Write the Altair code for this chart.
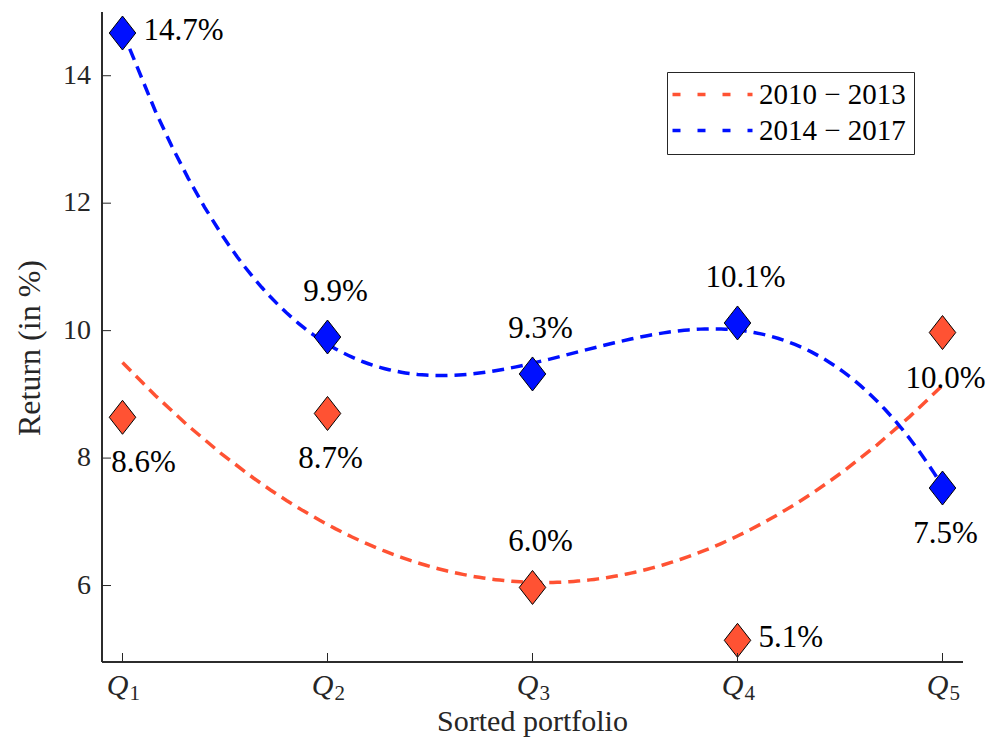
import altair as alt
import pandas as pd

# ---- data ----
portfolios = [1, 2, 3, 4, 5]
tick_main = ["Q", "Q", "Q", "Q", "Q"]
tick_sub = ["1", "2", "3", "4", "5"]
y_ticks = [6, 8, 10, 12, 14]
y_tick_labels = ["6", "8", "10", "12", "14"]
x_title = ["Sorted portfolio"]
y_title = ["Return (in %)"]
series_names = ["2010 − 2013", "2014 − 2017"]
ret_2010_2013 = [8.64, 8.70, 5.97, 5.14, 9.97]
ret_2014_2017 = [14.67, 9.90, 9.32, 10.12, 7.53]
labels_2010_2013 = ["8.6%", "8.7%", "6.0%", "5.1%", "10.0%"]
labels_2014_2017 = ["14.7%", "9.9%", "9.3%", "10.1%", "7.5%"]
place_2010_2013 = ["below_right", "below", "above", "right", "below"]
place_2014_2017 = ["right", "above", "above", "above", "below"]

RED = "#FF5233"
BLUE = "#0010FF"
AX = "#262626"
FONT = "Liberation Serif"
W, H = 861, 650

rows = []
for s, vals, labs, pls in [
    (series_names[0], ret_2010_2013, labels_2010_2013, place_2010_2013),
    (series_names[1], ret_2014_2017, labels_2014_2017, place_2014_2017),
]:
    for x, v, l, p in zip(portfolios, vals, labs, pls):
        rows.append({"x": x, "ret": v, "series": s, "label": l, "place": p})
df = pd.DataFrame(rows)

xscale = alt.Scale(domain=[0.9, 5.1], nice=False, zero=False)
yscale = alt.Scale(domain=[4.8, 15], nice=False, zero=False)
color_scale = alt.Scale(domain=series_names, range=[RED, BLUE])

X = alt.X("x:Q", scale=xscale, axis=None)
Y = alt.Y("ret:Q", scale=yscale, axis=None)

legend = alt.Legend(title=None, orient="none", legendX=565, legendY=60,
                    symbolType="M-4,0H4", symbolSize=400, symbolStrokeWidth=3.5,
                    symbolDash=[8, 17], symbolOffset=23, labelOffset=32,
                    labelFont=FONT, labelFontSize=29, labelColor="black",
                    strokeColor=AX, fillColor="white", padding=8, rowPadding=6)

base = alt.Chart(df)


def fit_line(name, order):
    return (base.transform_filter(alt.datum.series == name)
            .transform_regression("x", "ret", method="poly", order=order,
                                  extent=[1, 5], groupby=["series"])
            .mark_line(strokeDash=[12, 7], strokeWidth=3.5)
            .encode(x=X, y=Y,
                    stroke=alt.Stroke("series:N", scale=color_scale, legend=legend)))


red_line = fit_line(series_names[0], 2)
blue_line = fit_line(series_names[1], 3)

diamond = "M0,-1L0.78,0L0,1L-0.78,0Z"

points = (base.mark_point(shape=diamond, size=1156, filled=True, stroke="black",
                          strokeWidth=1, opacity=1)
          .encode(x=X, y=Y,
                  fill=alt.Fill("series:N", scale=color_scale, legend=None)))


def labels(place, **kw):
    return (base.transform_filter(alt.datum.place == place)
            .mark_text(font=FONT, fontSize=31, color="black", **kw)
            .encode(x=X, y=Y, text="label:N"))


lab_above = labels("above", align="center", baseline="middle", dx=8, dy=-45)
lab_below = labels("below", align="center", baseline="middle", dx=3, dy=46)
lab_below_r = labels("below_right", align="center", baseline="middle", dx=21, dy=46)
lab_right = labels("right", align="left", baseline="middle", dx=21, dy=-2)

# ---- axes (drawn from the tick arrays through the scales) ----
ytick_df = pd.DataFrame({"v": y_ticks, "lab": y_tick_labels})
xtick_df = pd.DataFrame({"x": portfolios, "main": tick_main, "sub": tick_sub})

ydomain = (alt.Chart(ytick_df).mark_rule(color=AX, strokeWidth=1)
           .encode(x=alt.value(0), y=alt.value(0), y2=alt.value(H)))
xdomain = (alt.Chart(ytick_df).mark_rule(color=AX, strokeWidth=1)
           .encode(x=alt.value(0), x2=alt.value(W), y=alt.value(H)))
yticks = (alt.Chart(ytick_df).mark_rule(color=AX, strokeWidth=1)
          .encode(y=alt.Y("v:Q", scale=yscale, axis=None),
                  x=alt.value(0), x2=alt.value(9)))
ylabels = (alt.Chart(ytick_df)
           .mark_text(font=FONT, fontSize=28, color=AX, align="right",
                      baseline="middle")
           .encode(y=alt.Y("v:Q", scale=yscale, axis=None), x=alt.value(-11),
                   text="lab:N"))
xticks = (alt.Chart(xtick_df).mark_rule(color=AX, strokeWidth=1)
          .encode(x=alt.X("x:Q", scale=xscale, axis=None),
                  y=alt.value(H), y2=alt.value(H - 9)))
xlab_main = (alt.Chart(xtick_df)
             .mark_text(font=FONT, fontSize=30, fontStyle="italic", color=AX,
                        align="center", baseline="alphabetic", dx=-5)
             .encode(x=alt.X("x:Q", scale=xscale, axis=None), y=alt.value(H + 33),
                     text="main:N"))
xlab_sub = (alt.Chart(xtick_df)
            .mark_text(font=FONT, fontSize=21, color=AX,
                       align="left", baseline="alphabetic", dx=7)
            .encode(x=alt.X("x:Q", scale=xscale, axis=None), y=alt.value(H + 38),
                    text="sub:N"))
xtitle = (alt.Chart(pd.DataFrame({"t": x_title}))
          .mark_text(font=FONT, fontSize=30, color=AX, align="center",
                     baseline="alphabetic")
          .encode(x=alt.value(W / 2), y=alt.value(H + 69), text="t:N"))
ytitle = (alt.Chart(pd.DataFrame({"t": y_title}))
          .mark_text(font=FONT, fontSize=32, color=AX, align="center",
                     baseline="middle", angle=270)
          .encode(x=alt.value(-72), y=alt.value(336), text="t:N"))

chart = (alt.layer(red_line, blue_line, points,
                   lab_above, lab_below, lab_below_r, lab_right,
                   ydomain, xdomain, yticks, ylabels, xticks,
                   xlab_main, xlab_sub, xtitle, ytitle)
         .properties(width=W, height=H,
                     autosize=alt.AutoSizeParams(type="none"),
                     padding={"left": 94, "top": 4, "right": 24, "bottom": 75})
         .configure_view(stroke=None))

chart.save("out.html", embed_options={"renderer": "svg", "actions": False})
